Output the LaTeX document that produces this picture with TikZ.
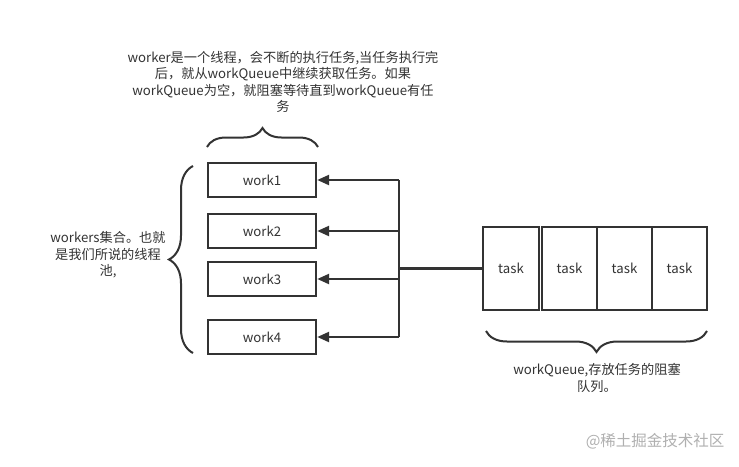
\documentclass[tikz,border=0pt]{standalone}
\usepackage{fontspec}
\setmainfont{Noto Sans CJK SC}
\usetikzlibrary{arrows.meta,decorations.pathreplacing}
\definecolor{ink}{HTML}{333333}
\definecolor{wm}{HTML}{B0B0B0}
\begin{document}
\begin{tikzpicture}[x=1pt,y=-1pt,
  every node/.style={text=ink,font=\fontsize{13.2}{16.5}\selectfont},
  wbox/.style={draw=ink,line width=2.4pt,minimum width=108pt,minimum height=34pt,inner sep=0pt},
  tbox/.style={draw=ink,line width=2.4pt,minimum height=83pt,inner sep=0pt},
  ln/.style={draw=ink,line width=2.4pt},
  arr/.style={ln,-{Triangle[length=12pt,width=10pt]}},
  brc/.style={draw=ink,line width=2pt,decorate,decoration={brace,amplitude=#1}},
  lbl/.style={align=center}]
\useasboundingbox[fill=white] (0,0) rectangle (739,466);
% text blocks
\node[lbl] (top) at (283,82) {worker是一个线程，会不断的执行任务,当任务执行完\\后，就从workQueue中继续获取任务。如果\\workQueue为空，就阻塞等待直到workQueue有任\\务};
\node[lbl] (left) at (108,255) {workers集合。也就\\是我们所说的线程\\池,};
\node[lbl] (bot) at (597,378) {workQueue,存放任务的阻塞\\队列。};
\node[anchor=east,text=wm,font=\fontsize{15.5}{17}\selectfont] (wmk) at (728,441) {@稀土掘金技术社区};
% workers
\node[wbox] (w1) at (262,180) {work1};
\node[wbox] (w2) at (262,231) {work2};
\node[wbox] (w3) at (262,279) {work3};
\node[wbox] (w4) at (262,337) {work4};
% tasks
\node[tbox,minimum width=56pt] (t1) at (511,268.5) {task};
\node[tbox,minimum width=55pt] (t2) at (569.5,268.5) {task};
\node[tbox,minimum width=55pt] (t3) at (624.5,268.5) {task};
\node[tbox,minimum width=55pt] (t4) at (679.5,268.5) {task};
% connectors
\coordinate (jx) at (399,268.5);
\draw[ln] (t1.west) -- (jx);
\draw[ln] (jx |- w1.east) -- (jx |- w4.east);
\draw[arr] (jx |- w1.east) -- (w1.east);
\draw[arr] (jx |- w2.east) -- (w2.east);
\draw[arr] (jx |- w3.east) -- (w3.east);
\draw[arr] (jx |- w4.east) -- (w4.east);
% braces
\coordinate (ba1) at (207,147);
\coordinate (ba2) at (318,147);
\draw[brc=19pt] (ba1) -- (ba2);
\coordinate (bl1) at (193,166);
\coordinate (bl2) at (193,353);
\draw[brc=24pt] (bl2) -- (bl1);
\coordinate (bb1) at (486,331);
\coordinate (bb2) at (707,331);
\draw[brc=21pt] (bb2) -- (bb1);
\end{tikzpicture}
\end{document}
